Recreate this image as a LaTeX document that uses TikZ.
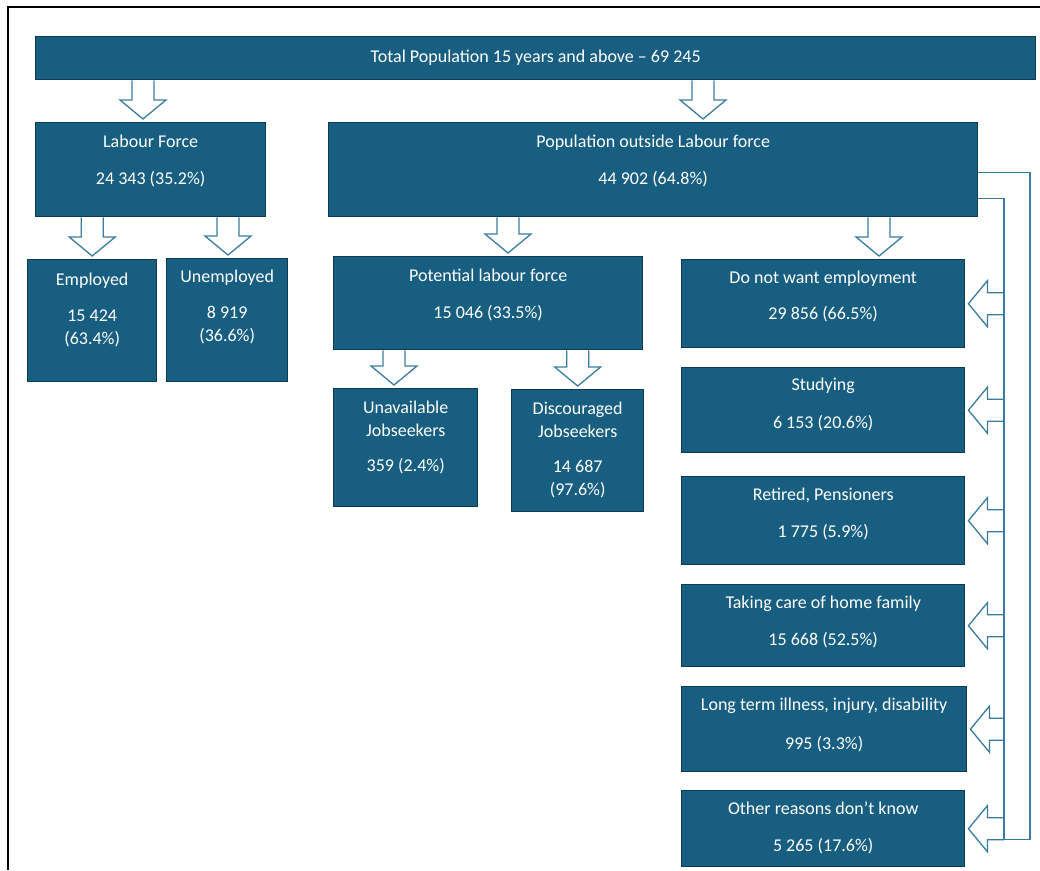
\documentclass[tikz,border=0pt]{standalone}
\usepackage{fontspec}
\setmainfont{Carlito}
\usetikzlibrary{calc,positioning}
\definecolor{boxblue}{HTML}{185E80}
\definecolor{boxedge}{HTML}{0D3B52}
\definecolor{arrowblue}{HTML}{3A7CA0}

\begin{document}
\begin{tikzpicture}[
    x=1pt, y=-1pt,
    box/.style={draw=boxedge, fill=boxblue, line width=1.4pt, inner sep=0pt, anchor=north west},
    lbl/.style={text=white, align=center, inner sep=0pt, font=\fontsize{18}{23}\selectfont, execute at begin node=\strut},
    blockarrow/.style={draw=arrowblue, fill=white, line width=1.3pt, line join=miter,
        to path={let \p1=(\tikztostart), \p2=($(\tikztotarget)!3pt!(\tikztostart)$),
            \p3=($(\p2)!19pt!(\p1)$) in
            ($(\p1)!11pt!90:(\p2)$) -- ($(\p3)!11pt!90:(\p2)$) -- ($(\p3)!23pt!90:(\p2)$)
            -- (\p2) -- ($(\p3)!23pt!-90:(\p2)$) -- ($(\p3)!11pt!-90:(\p2)$) -- ($(\p1)!11pt!-90:(\p2)$)}},
    pipe/.style={draw=arrowblue, line width=1.3pt}
]
\useasboundingbox (0,0) rectangle (1040,870);
\draw[line width=2pt] (8,870) -- (8,7) -- (1040,7);

% boxes
\node[box, minimum width=1000pt, minimum height=43pt] (total) at (35,36) {};
\node[box, minimum width=230pt, minimum height=94pt] (lf) at (35,122) {};
\node[box, minimum width=649pt, minimum height=94pt] (polf) at (328,122) {};
\node[box, minimum width=129pt, minimum height=122pt] (emp) at (27,259) {};
\node[box, minimum width=121pt, minimum height=123pt] (unemp) at (166,258) {};
\node[box, minimum width=309pt, minimum height=93pt] (plf) at (333,256) {};
\node[box, minimum width=144pt, minimum height=118pt] (unav) at (333,388) {};
\node[box, minimum width=132pt, minimum height=122pt] (disc) at (511,389) {};
\node[box, minimum width=283pt, minimum height=88pt] (dnw) at (681,259) {};
\node[box, minimum width=283pt, minimum height=85pt] (stud) at (681,367) {};
\node[box, minimum width=283pt, minimum height=88pt] (ret) at (681,476) {};
\node[box, minimum width=283pt, minimum height=82pt] (care) at (681,584) {};
\node[box, minimum width=285pt, minimum height=85pt] (ill) at (681,686) {};
\node[box, minimum width=283pt, minimum height=76pt] (oth) at (681,790) {};

% texts
\node[lbl] (totalt) at (total.center) {Total Population 15 years and above -- 69 245};
\node[lbl, below=13pt of lf.north] (lft) {Labour Force\\[14pt]24 343 (35.2\%)};
\node[lbl, below=13pt of polf.north] (polft) {Population outside Labour force\\[14pt]44 902 (64.8\%)};
\node[lbl, below=14pt of emp.north] (empt) {Employed\\[13pt]15 424\\(63.4\%)};
\node[lbl, below=12pt of unemp.north] (unempt) {Unemployed\\[13pt]8 919\\(36.6\%)};
\node[lbl, below=13pt of plf.north] (plft) {Potential labour force\\[14pt]15 046 (33.5\%)};
\node[lbl, below=13pt of unav.north] (unavt) {Unavailable\\Jobseekers\\[12pt]359 (2.4\%)};
\node[lbl, below=13pt of disc.north] (disct) {Discouraged\\Jobseekers\\[12pt]14 687\\(97.6\%)};
\node[lbl, below=12pt of dnw.north] (dnwt) {Do not want employment\\[13pt]29 856 (66.5\%)};
\node[lbl, below=11pt of stud.north] (studt) {Studying\\[15pt]6 153 (20.6\%)};
\node[lbl, below=12pt of ret.north] (rett) {Retired, Pensioners\\[14pt]1 775 (5.9\%)};
\node[lbl, below=12pt of care.north] (caret) {Taking care of home family\\[14pt]15 668 (52.5\%)};
\node[lbl, below=12pt of ill.north] (illt) {Long term illness, injury, disability\\[16pt]995 (3.3\%)};
\node[lbl, below=12pt of oth.north] (otht) {Other reasons don’t know\\[14pt]5 265 (17.6\%)};

% block arrows
\draw[blockarrow] (total.south -| 143,0) to (lf.north -| 143,0);
\draw[blockarrow] (total.south -| 703,0) to (polf.north -| 703,0);
\draw[blockarrow] (lf.south -| emp.north) to (emp.north);
\draw[blockarrow] (lf.south -| 228,0) to (unemp.north -| 228,0);
\draw[blockarrow] (polf.south -| 508,0) to (plf.north -| 508,0);
\draw[blockarrow] (polf.south -| 879,0) to (dnw.north -| 879,0);
\draw[blockarrow] (plf.south -| 394,0) to (unav.north -| 394,0);
\draw[blockarrow] (plf.south -| disc.north) to (disc.north);

\coordinate (pipeo) at (1030,0);
\coordinate (pipei) at (1004,0);
\foreach \b in {dnw,stud,ret,care,ill,oth}
    \draw[blockarrow] (pipei |- \b.east) to (\b.east);
\draw[pipe] ($(polf.east)+(0,3)$) -| ($(pipeo |- oth.east)+(0,11)$)
    -| ($(pipei |- polf.east)+(0,29)$) -- ($(polf.east)+(0,29)$);
\end{tikzpicture}
\end{document}
